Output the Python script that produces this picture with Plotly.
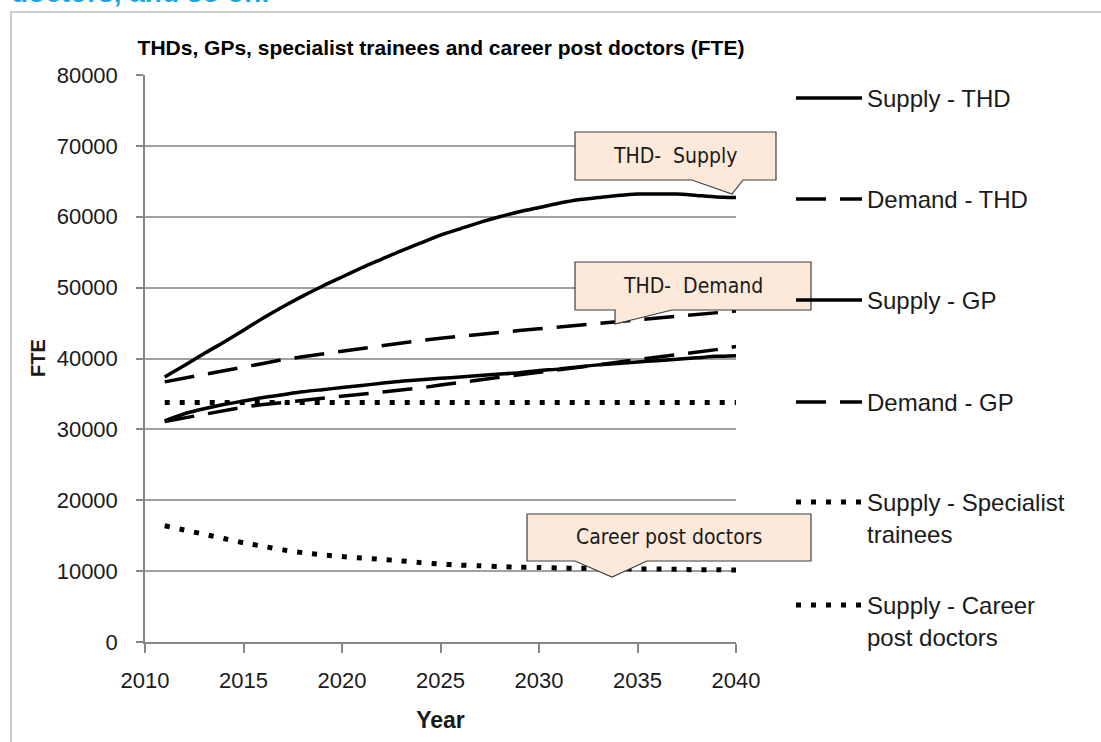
import plotly.graph_objects as go

# ---------------- data ----------------
years = list(range(2011, 2041))

supply_thd = [37400, 39000, 40700, 42300, 44000, 45700, 47300, 48800, 50200, 51500,
              52800, 54000, 55200, 56300, 57400, 58300, 59200, 60000, 60700, 61300,
              61900, 62400, 62700, 63000, 63200, 63200, 63200, 63000, 62800, 62700]

demand_thd = [36700, 37250, 37800, 38300, 38800, 39300, 39850, 40250, 40650, 41050,
              41450, 41850, 42250, 42550, 42850, 43150, 43450, 43700, 43950, 44200,
              44450, 44700, 44950, 45200, 45450, 45700, 45950, 46200, 46450, 46700]

supply_gp = [31200, 32200, 32900, 33500, 34000, 34500, 34900, 35300, 35600, 35900,
             36200, 36500, 36800, 37000, 37200, 37400, 37600, 37800, 38000, 38300,
             38500, 38800, 39100, 39300, 39500, 39700, 39900, 40100, 40300, 40400]

demand_gp = [31100, 31600, 32100, 32700, 33150, 33500, 33800, 34100, 34400, 34650,
             34900, 35200, 35500, 35850, 36250, 36650, 37000, 37350, 37700, 38050,
             38400, 38750, 39100, 39450, 39800, 40150, 40500, 40850, 41250, 41700]

supply_spec = [33800, 33800, 33800, 33800, 33800, 33800, 33800, 33800, 33800, 33800,
               33800, 33800, 33800, 33800, 33800, 33800, 33800, 33800, 33800, 33800,
               33800, 33800, 33800, 33800, 33800, 33800, 33800, 33800, 33800, 33800]

supply_career = [16400, 15800, 15200, 14600, 14000, 13500, 13000, 12600, 12300, 12050,
                 11850, 11650, 11450, 11200, 11000, 10850, 10750, 10650, 10550, 10500,
                 10450, 10400, 10400, 10350, 10300, 10300, 10250, 10200, 10200, 10150]

series_names = ["Supply - THD", "Demand - THD", "Supply - GP", "Demand - GP",
                "Supply - Specialist<br>trainees", "Supply - Career<br>post doctors"]

x_ticks = [2010, 2015, 2020, 2025, 2030, 2035, 2040]
y_ticks = [0, 10000, 20000, 30000, 40000, 50000, 60000, 70000, 80000]

callout_texts = ["THD-  Supply", "THD-  Demand", "Career post doctors"]

# ---------------- layout helpers (pixel -> paper) ----------------
W, H = 1101, 742
PL, PR, PT, PB = 145, 736, 75, 642


def px(xp):
    return (xp - PL) / (PR - PL)


def py(yp):
    return (PB - yp) / (PB - PT)


def poly(points):
    return "M " + " L ".join(f"{px(a):.5f},{py(b):.5f}" for a, b in points) + " Z"


FONT = "Liberation Sans, Arial, sans-serif"
NARROW = "Liberation Sans Narrow, Arial Narrow, DejaVu Sans Condensed, sans-serif"
INK = "#1a1a1a"

fig = go.Figure()

styles = [
    dict(color="black", width=3.5, dash="solid", shape="spline", smoothing=0.6),
    dict(color="black", width=3.5, dash="30px,14px"),
    dict(color="black", width=3.5, dash="solid", shape="spline", smoothing=0.6),
    dict(color="black", width=3.5, dash="30px,14px"),
    dict(color="black", width=5, dash="5px,10px"),
    dict(color="black", width=5, dash="5px,10px", shape="spline", smoothing=0.6),
]
data_series = [supply_thd, demand_thd, supply_gp, demand_gp, supply_spec, supply_career]
legend_ids = ["legend", "legend2", "legend3", "legend4", "legend5", "legend6"]

for name, ys, st, lg in zip(series_names, data_series, styles, legend_ids):
    fig.add_trace(go.Scatter(x=years, y=ys, mode="lines", name=name, line=st,
                             legend=lg, hoverinfo="skip"))

# separate legends, positioned like the original vertical list
legend_centers = [98, 199, 300, 402, 502, 605]
leg_common = dict(xanchor="left", yanchor="top", bgcolor="rgba(0,0,0,0)",
                  font=dict(family=FONT, size=24, color=INK), itemwidth=66,
                  valign="top", tracegroupgap=0)
layout_legends = {}
for lg, c in zip(legend_ids, legend_centers):
    layout_legends[lg] = dict(x=px(791), y=py(c - 22), **leg_common)

# callout boxes
callouts = [
    [(575, 132), (776, 132), (776, 180), (743, 180), (732, 194), (692, 180), (575, 180)],
    [(575, 262), (811, 262), (811, 310), (672, 310), (615, 324), (615, 310), (575, 310)],
    [(527, 514), (811, 514), (811, 561), (647, 561), (612, 577), (575, 561), (527, 561)],
]
callout_centers = [(675, 156), (693, 286), (669, 537)]

shapes = [
    # outer frame
    dict(type="rect", xref="paper", yref="paper", x0=px(11), x1=px(1120), y0=py(780), y1=py(12),
         line=dict(color="#BFBFBF", width=1.5), fillcolor="rgba(0,0,0,0)", layer="below"),
]
for pts in callouts:
    shapes.append(dict(type="path", xref="paper", yref="paper", path=poly(pts),
                       fillcolor="#FDE9D9", line=dict(color="#404040", width=1.2), layer="above"))

annotations = []
for t, (cx, cy) in zip(callout_texts, callout_centers):
    annotations.append(dict(text=t, xref="paper", yref="paper", x=px(cx), y=py(cy),
                            xanchor="center", yanchor="middle", showarrow=False,
                            font=dict(family=NARROW, size=21, color=INK)))
# clipped caption from the surrounding page
annotations.append(dict(text="<b>doctors, and so on.</b>", xref="paper", yref="paper",
                        x=px(9), y=py(10), xanchor="left", yanchor="bottom", showarrow=False,
                        font=dict(family=FONT, size=28, color="#1AA6E4")))
# y axis title
annotations.append(dict(text="<b>FTE</b>", xref="paper", yref="paper", x=px(38), y=py(358),
                        xanchor="center", yanchor="middle", textangle=-90, showarrow=False,
                        font=dict(family=FONT, size=20, color=INK)))

fig.update_layout(
    width=W, height=H,
    margin=dict(l=PL, r=W - PR, t=PT, b=H - PB, pad=0),
    paper_bgcolor="white", plot_bgcolor="white",
    title=dict(text="<b>THDs, GPs, specialist trainees and career post doctors (FTE)</b>",
               x=px(441), xref="paper", xanchor="center",
               y=1 - 48 / H, yref="container", yanchor="middle",
               font=dict(family=FONT, size=21, color="black")),
    xaxis=dict(range=[2010, 2040], tickvals=x_ticks, ticktext=[str(v) for v in x_ticks],
               showgrid=False, zeroline=False, showline=True, linecolor="#868686", linewidth=1.5,
               ticks="outside", ticklen=9, tickcolor="#868686", tickwidth=1.5,
               ticklabelstandoff=9,
               tickfont=dict(family=FONT, size=22, color=INK),
               title=dict(text="<b>Year</b>", standoff=20,
                          font=dict(family=FONT, size=23, color=INK))),
    yaxis=dict(range=[0, 80000], tickvals=y_ticks, ticktext=[str(v) for v in y_ticks],
               showgrid=True, gridcolor="#A0A0A0", gridwidth=1.5, zeroline=False,
               showline=True, linecolor="#868686", linewidth=1.5,
               ticks="outside", ticklen=7, tickcolor="#868686", tickwidth=1.5,
               ticklabelstandoff=14,
               tickfont=dict(family=FONT, size=22, color=INK)),
    shapes=shapes,
    annotations=annotations,
    showlegend=True,
    **layout_legends,
)

fig.write_html("out.html", config={"displayModeBar": False},
               post_script="document.body.style.margin='0px';")
